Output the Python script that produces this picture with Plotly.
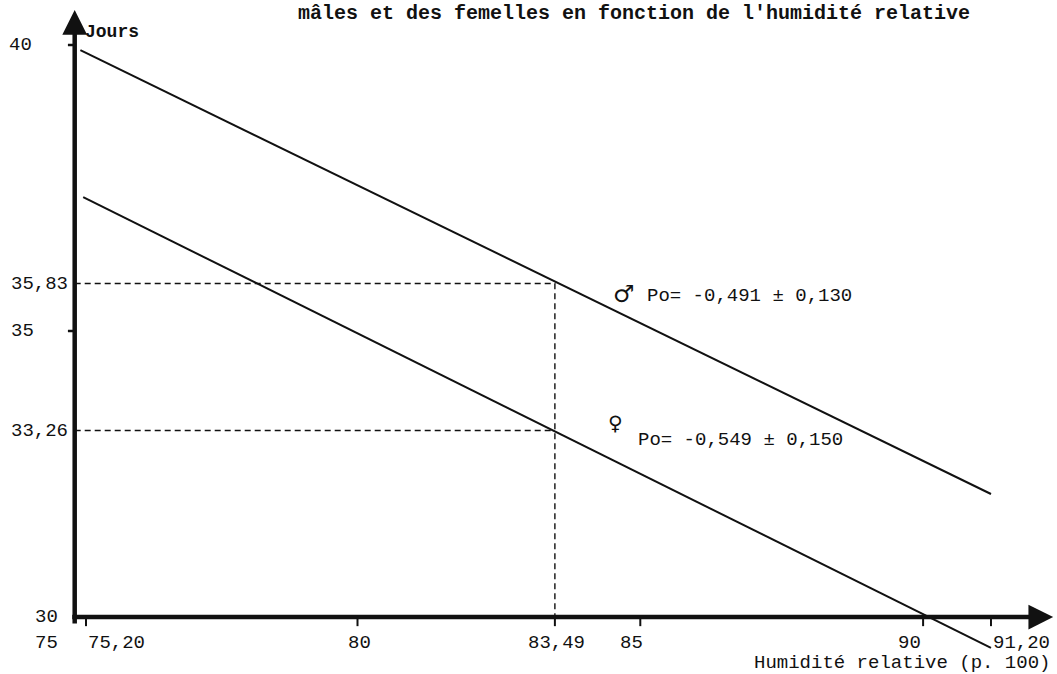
import plotly.graph_objects as go

# ---- data ----
x_male = [75.10, 91.20]
y_male = [39.91, 32.15]
x_female = [75.15, 91.20]
y_female = [37.34, 29.46]

ref_x = 83.49
ref_y_male = 35.83
ref_y_female = 33.26

x_origin = 75.0
y_origin = 30.0
x_axis_end = 92.30
y_axis_end = 40.61

xtick_vals = [75.2, 80, 83.49, 85, 90, 91.2]
xtick_text = ["75,20", "80", "83,49", "85", "90", "91,20"]
ytick_vals = [40, 35.83, 35, 33.26, 30]
ytick_text = ["40", "35,83", "35", "33,26", "30"]

title_text = "mâles et des femelles en fonction de l'humidité relative"
xlabel = "Humidité relative (p. 100)"
ylabel = "Jours"
male_text = "Po= -0,491 ± 0,130"
female_text = "Po= -0,549 ± 0,150"

W, H = 1057, 674
FONT = "Liberation Mono"
BLACK = "#111111"

fig = go.Figure()

# dashed reference lines
fig.add_trace(go.Scatter(x=[x_origin, ref_x, ref_x], y=[ref_y_male, ref_y_male, y_origin],
                         mode="lines", line=dict(color=BLACK, width=1.4, dash="6px,4px"),
                         hoverinfo="skip", showlegend=False))
fig.add_trace(go.Scatter(x=[x_origin, ref_x], y=[ref_y_female, ref_y_female],
                         mode="lines", line=dict(color=BLACK, width=1.4, dash="6px,4px"),
                         hoverinfo="skip", showlegend=False))

# regression lines
fig.add_trace(go.Scatter(x=x_male, y=y_male, mode="lines",
                         line=dict(color=BLACK, width=2), showlegend=False, name="mâles"))
fig.add_trace(go.Scatter(x=x_female, y=y_female, mode="lines",
                         line=dict(color=BLACK, width=2), showlegend=False, name="femelles"))

shapes = []
# x-axis ticks (below the axis)
for v in xtick_vals:
    shapes.append(dict(type="line", xref="x", yref="y", x0=v, x1=v,
                       y0=y_origin, y1=y_origin - 0.16, line=dict(color=BLACK, width=2)))
# y-axis ticks (left of the axis) at 40 and 35
for v in [40, 35]:
    shapes.append(dict(type="line", xref="x", yref="y", x0=x_origin - 0.12, x1=x_origin,
                       y0=v, y1=v, line=dict(color=BLACK, width=2.5)))

annotations = []
# axes with arrowheads
annotations.append(dict(x=x_axis_end, y=y_origin, ax=x_origin - 0.07, ay=y_origin,
                        xref="x", yref="y", axref="x", ayref="y", text="", showarrow=True,
                        arrowhead=2, arrowsize=1.1, arrowwidth=4.5, arrowcolor=BLACK))
annotations.append(dict(x=x_origin, y=y_axis_end, ax=x_origin, ay=y_origin - 0.14,
                        xref="x", yref="y", axref="x", ayref="y", text="", showarrow=True,
                        arrowhead=2, arrowsize=1.1, arrowwidth=4.5, arrowcolor=BLACK))

tfont = dict(family=FONT, size=19, color=BLACK)

# x tick labels
x_anchor = {"75,20": ("left", 0), "80": ("center", 2), "83,49": ("center", 2),
            "85": ("center", -9), "90": ("right", 0), "91,20": ("left", 0)}
for v, t in zip(xtick_vals, xtick_text):
    a, s = x_anchor[t]
    annotations.append(dict(x=v, y=y_origin - 0.45, xref="x", yref="y", text=t,
                            showarrow=False, xanchor=a, xshift=s, font=tfont))
# "75" label under the origin
annotations.append(dict(x=60 / W, y=y_origin - 0.45, xref="paper", yref="y", text="75",
                        showarrow=False, xanchor="right", font=tfont))

# y tick labels
y_pos = {"40": (34, "right"), "35,83": (70, "right"), "35": (9, "left"),
         "33,26": (70, "right"), "30": (60, "right")}
for v, t in zip(ytick_vals, ytick_text):
    px, a = y_pos[t]
    annotations.append(dict(x=px / W, y=v, xref="paper", yref="y", text=t,
                            showarrow=False, xanchor=a, font=tfont))

# axis titles
annotations.append(dict(x=x_origin + 0.14, y=40.22, xref="x", yref="y", text=ylabel,
                        showarrow=False, xanchor="left",
                        font=dict(family=FONT, size=18, color=BLACK, weight="bold")))
annotations.append(dict(x=1052 / W, y=29.2, xref="paper", yref="y", text=xlabel,
                        showarrow=False, xanchor="right", font=tfont))

# title line at the top
annotations.append(dict(x=296 / W, y=1 - 13 / H, xref="paper", yref="paper", text=title_text,
                        showarrow=False, xanchor="left", yanchor="middle",
                        font=dict(family=FONT, size=20, color=BLACK, weight="bold")))

# series labels
annotations.append(dict(x=84.72, y=35.64, xref="x", yref="y", text="♂", showarrow=False,
                        font=dict(family="DejaVu Sans", size=24, color=BLACK)))
annotations.append(dict(x=85.08, y=35.62, xref="x", yref="y", text=male_text, showarrow=False,
                        xanchor="left", font=tfont))
annotations.append(dict(x=84.56, y=33.40, xref="x", yref="y", text="♀", showarrow=False,
                        font=dict(family="DejaVu Sans", size=20, color=BLACK)))
annotations.append(dict(x=84.92, y=33.09, xref="x", yref="y", text=female_text, showarrow=False,
                        xanchor="left", font=tfont))

x_px_per_unit = 56.56
y_px_per_unit = 57.2
x_left = x_origin - 74.7 / x_px_per_unit
x_right = x_left + W / x_px_per_unit
y_bottom = y_origin - (H - 617) / y_px_per_unit
y_top = y_bottom + H / y_px_per_unit

fig.update_layout(
    width=W, height=H, autosize=False,
    margin=dict(l=0, r=0, t=0, b=0, pad=0),
    paper_bgcolor="white", plot_bgcolor="white",
    xaxis=dict(range=[x_left, x_right], visible=False, fixedrange=True),
    yaxis=dict(range=[y_bottom, y_top], visible=False, fixedrange=True),
    shapes=shapes, annotations=annotations, showlegend=False,
)

fig.write_html("out.html", include_plotlyjs=True, config={"displayModeBar": False},
               post_script="document.body.style.margin='0';document.body.style.overflow='hidden';")
